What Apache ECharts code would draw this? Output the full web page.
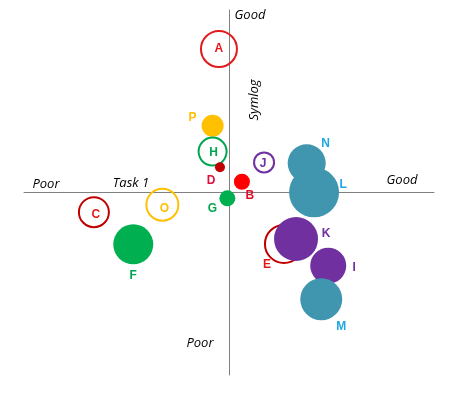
<!DOCTYPE html>
<html><head><meta charset="utf-8">
<script src="https://cdn.jsdelivr.net/npm/echarts@6/dist/echarts.min.js"></script>
<style>html,body{margin:0;padding:0;background:#fff}#c{width:449px;height:404px}</style>
</head><body><div id="c"></div>
<script>
// Data
const names = ['A','P','H','D','J','B','G','C','O','F','N','L','E','K','I','M'];
const xValues = [-4.9,-8.0,-8.0,-4.4,17.1,6.3,-0.8,-65.9,-32.5,-46.7,37.9,41.5,26.8,32.7,48.4,45.0];
const yValues = [78.6,36.6,22.4,13.8,16.5,5.9,-3.2,-10.8,-6.7,-28.4,16.0,0.1,-28.2,-25.5,-40.1,-58.5];
const sizes   = [36,22,28,10,20,16,16,30,32,40,38,50,38,44,36,42];

// Styles (not data)
const styles = {
  A:{c:'#E31A1C',ring:true,lc:'#E31A1C',off:[0,0]},
  P:{c:'#FFC000',ring:false,lc:'#FFC000',off:[-20,-8]},
  H:{c:'#00A650',ring:true,lc:'#00A650',off:[1,1]},
  D:{c:'#C00000',ring:false,lc:'#E0103A',off:[-9,13]},
  J:{c:'#7030A0',ring:true,lc:'#7030A0',off:[-1,1]},
  B:{c:'#FF0000',ring:false,lc:'#E0102A',off:[8,14]},
  G:{c:'#00B050',ring:false,lc:'#00A650',off:[-15,10]},
  C:{c:'#C00000',ring:true,lc:'#E31A1C',off:[2,2]},
  O:{c:'#FFC000',ring:true,lc:'#FFC000',off:[2,4]},
  F:{c:'#00B050',ring:false,lc:'#00A650',off:[0,31]},
  N:{c:'#4096AF',ring:false,lc:'#1EA7E1',off:[19,-20]},
  L:{c:'#4096AF',ring:false,lc:'#1EA7E1',off:[29,-8]},
  E:{c:'#C00000',ring:true,lc:'#E31A1C',off:[-17,21]},
  K:{c:'#7030A0',ring:false,lc:'#7030A0',off:[30,-5]},
  I:{c:'#7030A0',ring:false,lc:'#7030A0',off:[26,2]},
  M:{c:'#4096AF',ring:false,lc:'#1EA7E1',off:[20,27]}
};

const data = names.map((n,i)=>{
  const s = styles[n];
  return {
    name:n,
    value:[xValues[i], yValues[i], sizes[i]],
    itemStyle: s.ring ? {color:'rgba(255,255,255,0)', borderColor:s.c, borderWidth:2, opacity:1}
                      : {color:s.c, borderWidth:0, opacity:1},
    label:{show:true, formatter:n, position:'inside', offset:s.off, color:s.lc}
  };
});

const chart = echarts.init(document.getElementById('c'));
const italic = {fontFamily:'Open Sans', fontStyle:'italic', fontSize:13, fill:'#000', textAlign:'center', textVerticalAlign:'middle'};
chart.setOption({
  animation:false,
  backgroundColor:'#fff',
  grid:{left:24, right:15, top:10, bottom:29, containLabel:false},
  xAxis:{type:'value', min:-100, max:100, axisLine:{onZero:true, lineStyle:{color:'#808080', width:1}},
    axisTick:{show:false}, axisLabel:{show:false}, splitLine:{show:false}},
  yAxis:{type:'value', min:-100, max:100, axisLine:{onZero:true, lineStyle:{color:'#808080', width:1}},
    axisTick:{show:false}, axisLabel:{show:false}, splitLine:{show:false}},
  series:[{
    type:'scatter',
    symbol:'circle',
    symbolSize:(v)=>v[2],
    itemStyle:{opacity:1},
    label:{fontFamily:'Liberation Sans', fontWeight:'bold', fontSize:12},
    emphasis:{disabled:true},
    data:data
  }],
  graphic:[
    {type:'text', x:250, y:15, style:Object.assign({text:'Good'}, italic)},
    {type:'text', x:46, y:184, style:Object.assign({text:'Poor'}, italic)},
    {type:'text', x:131, y:183, style:Object.assign({text:'Task 1'}, italic)},
    {type:'text', x:402, y:180, style:Object.assign({text:'Good'}, italic)},
    {type:'text', x:200, y:343, style:Object.assign({text:'Poor'}, italic)},
    {type:'text', x:254, y:100, rotation:Math.PI/2, style:Object.assign({text:'Symlog'}, italic)}
  ]
});
</script></body></html>
